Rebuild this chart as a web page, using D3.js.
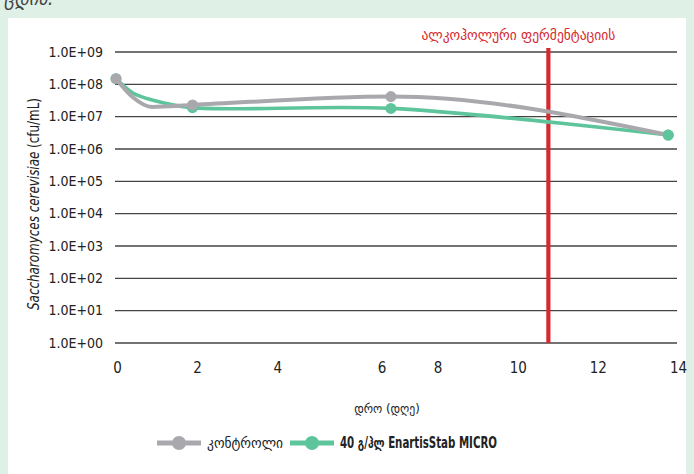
<!DOCTYPE html>
<html><head><meta charset="utf-8">
<script src="https://cdn.jsdelivr.net/npm/d3@7"></script>
<style>
html,body{margin:0;padding:0;background:#dff0e7;}
svg{display:block;}
</style></head>
<body>
<svg id="c" width="694" height="474"></svg>
<script>
// ---- data ----
const days        = [0, 0.42, 0.9, 1.91, 6.86, 13.78];
const control     = [1.5e8, 4.0e7, 2.0e7, 2.3e7, 4.2e7, 2.7e6];
const stab        = [1.5e8, 5.4e7, 3.3e7, 1.9e7, 1.8e7, 2.7e6];
const controlMarked = [true, false, false, true, true, false];
const stabMarked    = [true, false, false, true, true, true];
const yTicks      = [1e0,1e1,1e2,1e3,1e4,1e5,1e6,1e7,1e8,1e9];
const yTickLabels = ["1.0E+00","1.0E+01","1.0E+02","1.0E+03","1.0E+04","1.0E+05","1.0E+06","1.0E+07","1.0E+08","1.0E+09"];
const xTickValues = [0, 2, 4, 6.6, 8, 10, 12, 14];
const xTickLabels = ["0","2","4","6","8","10","12","14"];
const fermentationDay = 10.79;
const seriesNames = ["კონტროლი", "40 გ/ჰლ EnartisStab MICRO"];
const fermentationLabel = "ალკოჰოლური ფერმენტაციის";
const xTitle = "დრო (დღე)";

// ---- drawing ----
const svg = d3.select("#c");
const GEO = "'DejaVu Sans Condensed','DejaVu Sans',sans-serif";
const NARROW = "'Liberation Sans Narrow','Arial Narrow','DejaVu Sans Condensed',sans-serif";
const cGray = "#a9a9ad", cGreen = "#5dc49b", cRed = "#d6282f";

svg.append("rect").attr("x",8).attr("y",18).attr("width",678).attr("height",456).attr("fill","#fff");
svg.append("text").attr("x",4).attr("y",5).attr("font-family",GEO).attr("font-style","italic")
  .attr("font-size",20).attr("fill","#444").text("ცდის.");

const x = d3.scaleLinear().domain([0,14]).range([116,677]);
const y = d3.scaleLog().domain([1,1e9]).range([343,52]);

// gridlines
const grid = svg.append("g");
grid.selectAll("line").data(yTicks).join("line")
  .attr("x1",115).attr("x2",677)
  .attr("y1",d=>y(d)).attr("y2",d=>y(d))
  .attr("stroke","#444").attr("stroke-width",1.3);

// y axis labels
const yAxis = d3.axisLeft(y).tickValues(yTicks).tickSize(0).tickPadding(0)
  .tickFormat((d,i)=>yTickLabels[i]);
const gy = svg.append("g").attr("transform","translate(103,0)").call(yAxis);
gy.select(".domain").remove();
gy.selectAll("text").attr("font-family",NARROW).attr("font-size",14).attr("fill","#222")
  .attr("dy","0.3em");

// x axis labels
const xAxis = d3.axisBottom(x).tickValues(xTickValues).tickSize(0).tickPadding(0)
  .tickFormat((d,i)=>xTickLabels[i]);
const gx = svg.append("g").attr("transform","translate(1,362)").call(xAxis);
gx.select(".domain").remove();
gx.selectAll("text").attr("font-family",NARROW).attr("font-size",15).attr("fill","#222");

// y title
const yt = svg.append("text").attr("transform","translate(39,204) rotate(-90)")
  .attr("text-anchor","middle").attr("font-family",NARROW).attr("font-size",15).attr("fill","#222")
  .attr("textLength",212).attr("lengthAdjust","spacingAndGlyphs");
yt.append("tspan").attr("font-style","italic").text("Saccharomyces cerevisiae");
yt.append("tspan").text(" (cfu/mL)");

// x title
svg.append("text").attr("x",387).attr("y",413).attr("text-anchor","middle")
  .attr("font-family",GEO).attr("font-size",13).attr("fill","#222").text(xTitle);

// red fermentation line
svg.append("line").attr("x1",x(fermentationDay)).attr("x2",x(fermentationDay))
  .attr("y1",48).attr("y2",y(1)).attr("stroke",cRed).attr("stroke-width",4.2);
svg.append("text").attr("x",x(fermentationDay)-30).attr("y",40).attr("text-anchor","middle")
  .attr("font-family",GEO).attr("font-size",15).attr("fill",cRed).text(fermentationLabel);

// series
function series(vals, marked, color, w, curve){
  const line = d3.line().x(d=>x(d[0])).y(d=>y(d[1])).curve(curve);
  const pts = days.map((d,i)=>[d, vals[i]]);
  svg.append("path").attr("d",line(pts)).attr("fill","none").attr("stroke",color)
    .attr("stroke-width",w).attr("stroke-linejoin","round").attr("stroke-linecap","round");
  svg.append("g").selectAll("circle").data(pts.filter((p,i)=>marked[i])).join("circle")
    .attr("cx",d=>x(d[0])).attr("cy",d=>y(d[1])).attr("r",5.5).attr("fill",color);
}
series(stab, stabMarked, cGreen, 3.6, d3.curveCatmullRom.alpha(0.5));
series(control, controlMarked, cGray, 4, d3.curveMonotoneX);
// green final marker on top
svg.append("circle").attr("cx",x(days[5])).attr("cy",y(stab[5])).attr("r",5.5).attr("fill",cGreen);

// legend
const leg = svg.append("g");
const legItems = [
  {name:seriesNames[0], color:cGray, x0:157, bold:false, len:76},
  {name:seriesNames[1], color:cGreen, x0:290, bold:true, len:157}
];
legItems.forEach(it=>{
  leg.append("line").attr("x1",it.x0).attr("x2",it.x0+44).attr("y1",443).attr("y2",443)
    .attr("stroke",it.color).attr("stroke-width",5);
  leg.append("circle").attr("cx",it.x0+22).attr("cy",443).attr("r",7).attr("fill",it.color);
  leg.append("text").attr("x",it.x0+50).attr("y",448)
    .attr("font-family", it.bold ? NARROW : GEO).attr("font-weight",it.bold?"bold":"normal")
    .attr("font-size",it.bold?15:14).attr("fill","#222")
    .attr("textLength",it.len).attr("lengthAdjust","spacingAndGlyphs").text(it.name);
});
</script>
</body></html>
